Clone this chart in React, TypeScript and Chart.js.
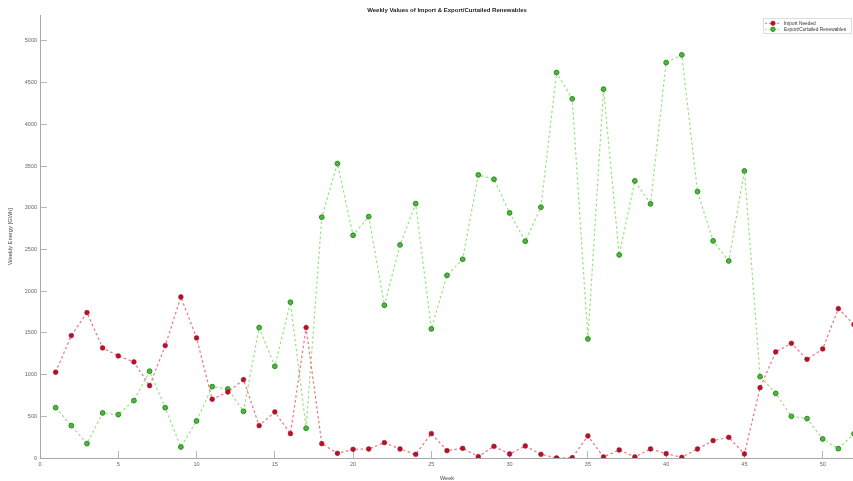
import React, { useEffect, useRef } from "react";
import { Chart, registerables } from "chart.js";

Chart.register(...registerables);

const TITLE = "Weekly Values of Import & Export/Curtailed Renewables";
const X_LABEL = "Week";
const Y_LABEL = "Weekly Energy [GWh]";
const SERIES_NAMES = ["Import Needed", "Export/Curtailed Renewables"];

const weeks = [
  1, 2, 3, 4, 5, 6, 7, 8, 9, 10, 11, 12, 13, 14, 15, 16, 17, 18, 19, 20, 21, 22, 23, 24, 25, 26,
  27, 28, 29, 30, 31, 32, 33, 34, 35, 36, 37, 38, 39, 40, 41, 42, 43, 44, 45, 46, 47, 48, 49, 50, 51, 52,
];

const importNeeded = [
  1028, 1467, 1743, 1319, 1223, 1151, 867, 1347, 1930, 1439, 704, 791, 939, 388, 552, 292, 1563, 172,
  56, 104, 108, 184, 108, 44, 292, 88, 116, 16, 140, 48, 144, 44, 0, 4, 264, 12, 96, 12, 108, 52, 8,
  108, 208, 248, 48, 843, 1271, 1375, 1183, 1307, 1790, 1600,
];

const exportCurtailed = [
  603, 388, 172, 540, 520, 688, 1040, 603, 132, 444, 855, 827, 560, 1563, 1099, 1867, 356, 2886, 3529,
  2670, 2893, 1831, 2554, 3049, 1547, 2190, 2382, 3393, 3341, 2938, 2598, 3006, 4620, 4305, 1427, 4421,
  2434, 3321, 3046, 4740, 4832, 3193, 2602, 2362, 3441, 975, 775, 500, 472, 228, 112, 290,
];

const xTicks = [0, 5, 10, 15, 20, 25, 30, 35, 40, 45, 50];
const yTicks = [0, 500, 1000, 1500, 2000, 2500, 3000, 3500, 4000, 4500, 5000];

const X_MIN = 0;
const X_MAX = 52;
const Y_MIN = 0;
const Y_MAX = 5310;

const FONT = "'Liberation Sans', Arial, Helvetica, sans-serif";

const STYLES = [
  { line: "#f2707f", fill: "#b3122d", edge: "#9c0a22", radius: 2.4, edgeW: 0.5 },
  { line: "#95e47c", fill: "#4cb83a", edge: "#2c8a22", radius: 2.4, edgeW: 1 },
];

const titlePlugin = {
  id: "centeredTitle",
  afterDraw(chart: any) {
    const { ctx, chartArea } = chart;
    ctx.save();
    ctx.fillStyle = "#222222";
    ctx.font = `bold 6px ${FONT}`;
    ctx.textAlign = "center";
    ctx.textBaseline = "middle";
    ctx.fillText(TITLE, (chartArea.left + chartArea.right) / 2, 10);
    ctx.restore();
  },
};

const legendPlugin = {
  id: "matlabLegend",
  afterDraw(chart: any) {
    const { ctx, chartArea } = chart;
    const x0 = chartArea.right - 91;
    const y0 = chartArea.top + 3;
    const w = 88;
    const h = 15;
    ctx.save();
    ctx.fillStyle = "#ffffff";
    ctx.fillRect(x0, y0, w, h);
    ctx.strokeStyle = "#cfcfcf";
    ctx.lineWidth = 0.7;
    ctx.strokeRect(x0 + 0.5, y0 + 0.5, w, h);
    chart.data.datasets.forEach((ds: any, i: number) => {
      const y = y0 + 5.3 + i * 6;
      ctx.setLineDash([2, 2]);
      ctx.strokeStyle = ds.borderColor;
      ctx.lineWidth = 1;
      ctx.beginPath();
      ctx.moveTo(x0 + 2, y);
      ctx.lineTo(x0 + 18, y);
      ctx.stroke();
      ctx.setLineDash([]);
      ctx.beginPath();
      ctx.arc(x0 + 10, y, 2.2, 0, Math.PI * 2);
      ctx.fillStyle = ds.pointBackgroundColor;
      ctx.fill();
      ctx.strokeStyle = ds.pointBorderColor;
      ctx.lineWidth = ds.pointBorderWidth;
      ctx.stroke();
      ctx.fillStyle = "#333333";
      ctx.font = `4.8px ${FONT}`;
      ctx.textBaseline = "middle";
      ctx.textAlign = "left";
      ctx.fillText(ds.label, x0 + 21, y);
    });
    ctx.restore();
  },
};

export default function App() {
  const canvasRef = useRef<HTMLCanvasElement | null>(null);

  useEffect(() => {
    const canvas = canvasRef.current;
    if (!canvas) return;
    const series = [importNeeded, exportCurtailed];
    const chart = new Chart(canvas, {
      type: "line",
      data: {
        datasets: series.map((vals, i) => ({
          label: SERIES_NAMES[i],
          data: weeks.map((w, j) => ({ x: w, y: vals[j] })),
          borderColor: STYLES[i].line,
          borderWidth: 1.2,
          borderDash: [2.5, 2.5],
          pointRadius: STYLES[i].radius,
          pointBackgroundColor: STYLES[i].fill,
          pointBorderColor: STYLES[i].edge,
          pointBorderWidth: STYLES[i].edgeW,
          tension: 0,
          fill: false,
        })),
      },
      options: {
        animation: false,
        responsive: false,
        devicePixelRatio: 1,
        layout: { padding: { top: 15, left: 0, right: 0, bottom: 0 } },
        plugins: {
          legend: { display: false },
          tooltip: { enabled: false },
          title: { display: false },
        },
        scales: {
          x: {
            type: "linear",
            min: X_MIN,
            max: X_MAX,
            afterBuildTicks: (s: any) => {
              s.ticks = xTicks.map((v) => ({ value: v }));
            },
            afterFit: (s: any) => {
              s.height = 23;
            },
            border: { display: true, color: "#a8a8a8", width: 1 },
            grid: {
              drawOnChartArea: false,
              drawTicks: true,
              tickLength: -7,
              tickColor: "#b8b8b8",
              lineWidth: 1,
            },
            ticks: {
              padding: 10,
              color: "#666666",
              font: { family: FONT, size: 5.5 },
              maxRotation: 0,
              autoSkip: false,
              callback: (v: any) => String(v),
            },
            title: {
              display: true,
              text: X_LABEL,
              color: "#444444",
              font: { family: FONT, size: 5.5, lineHeight: 1 },
              padding: { top: 0, bottom: 0 },
            },
          },
          y: {
            type: "linear",
            min: Y_MIN,
            max: Y_MAX,
            afterBuildTicks: (s: any) => {
              s.ticks = yTicks.map((v) => ({ value: v }));
            },
            afterFit: (s: any) => {
              s.width = 40;
            },
            border: { display: true, color: "#a8a8a8", width: 1 },
            grid: {
              drawOnChartArea: false,
              drawTicks: true,
              tickLength: -7,
              tickColor: "#b8b8b8",
              lineWidth: 1,
            },
            ticks: {
              padding: 10,
              color: "#666666",
              font: { family: FONT, size: 5.5 },
              autoSkip: false,
              callback: (v: any) => String(v),
            },
            title: {
              display: true,
              text: Y_LABEL,
              color: "#444444",
              font: { family: FONT, size: 5.8, lineHeight: 1 },
              padding: { top: 7, bottom: 0 },
            },
          },
        },
      },
      plugins: [titlePlugin, legendPlugin],
    } as any);
    return () => chart.destroy();
  }, []);

  return (
    <div
      style={{
        position: "fixed",
        left: 0,
        top: 0,
        width: 853,
        height: 481,
        overflow: "hidden",
        background: "#ffffff",
      }}
    >
      <canvas ref={canvasRef} width={859} height={481} style={{ display: "block" }} />
    </div>
  );
}
